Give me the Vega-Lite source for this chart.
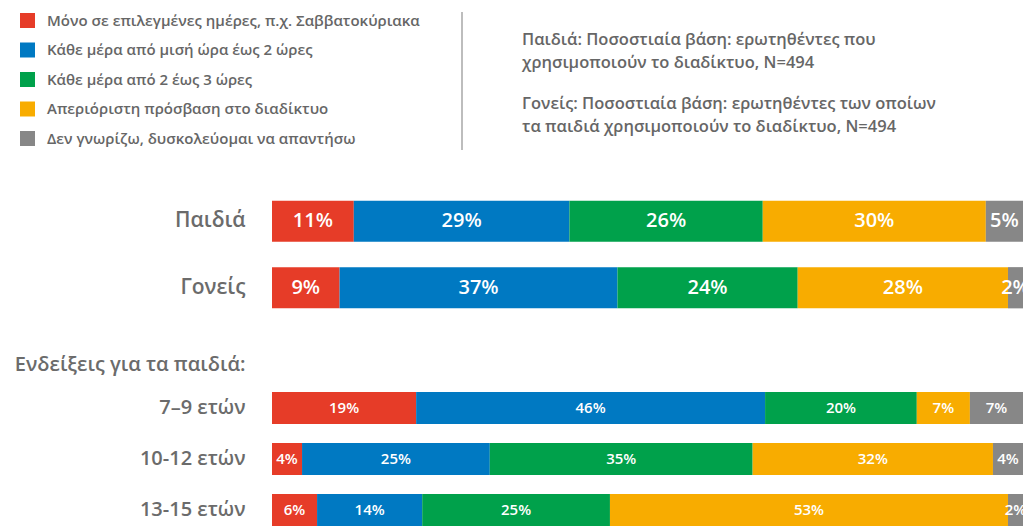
{
  "$schema": "https://vega.github.io/schema/vega-lite/v6.json",
  "width": 751,
  "height": 338,
  "autosize": {"type": "none"},
  "padding": {"left": 272, "top": 188, "right": 8, "bottom": 0},
  "background": "white",
  "config": {
    "view": {"stroke": null},
    "font": "Open Sans",
    "axisY": {"ticks": false, "domain": false, "grid": false, "labelFont": "Open Sans", "labelFontWeight": 600, "labelColor": "#6b6b6b", "labelPadding": 27, "labelLimit": 500, "title": null}
  },
  "datasets": {
    "bars": [
      {"row": "Παιδιά", "group": "top", "k": 1, "cat": "Μόνο σε επιλεγμένες ημέρες, π.χ. Σαββατοκύριακα", "v": 0.11},
      {"row": "Παιδιά", "group": "top", "k": 2, "cat": "Κάθε μέρα από μισή ώρα έως 2 ώρες", "v": 0.29},
      {"row": "Παιδιά", "group": "top", "k": 3, "cat": "Κάθε μέρα από 2 έως 3 ώρες", "v": 0.26},
      {"row": "Παιδιά", "group": "top", "k": 4, "cat": "Απεριόριστη πρόσβαση στο διαδίκτυο", "v": 0.30},
      {"row": "Παιδιά", "group": "top", "k": 5, "cat": "Δεν γνωρίζω, δυσκολεύομαι να απαντήσω", "v": 0.05},
      {"row": "Γονείς", "group": "top", "k": 1, "cat": "Μόνο σε επιλεγμένες ημέρες, π.χ. Σαββατοκύριακα", "v": 0.09},
      {"row": "Γονείς", "group": "top", "k": 2, "cat": "Κάθε μέρα από μισή ώρα έως 2 ώρες", "v": 0.37},
      {"row": "Γονείς", "group": "top", "k": 3, "cat": "Κάθε μέρα από 2 έως 3 ώρες", "v": 0.24},
      {"row": "Γονείς", "group": "top", "k": 4, "cat": "Απεριόριστη πρόσβαση στο διαδίκτυο", "v": 0.28},
      {"row": "Γονείς", "group": "top", "k": 5, "cat": "Δεν γνωρίζω, δυσκολεύομαι να απαντήσω", "v": 0.02},
      {"row": "7–9 ετών", "group": "age", "k": 1, "cat": "Μόνο σε επιλεγμένες ημέρες, π.χ. Σαββατοκύριακα", "v": 0.19},
      {"row": "7–9 ετών", "group": "age", "k": 2, "cat": "Κάθε μέρα από μισή ώρα έως 2 ώρες", "v": 0.46},
      {"row": "7–9 ετών", "group": "age", "k": 3, "cat": "Κάθε μέρα από 2 έως 3 ώρες", "v": 0.20},
      {"row": "7–9 ετών", "group": "age", "k": 4, "cat": "Απεριόριστη πρόσβαση στο διαδίκτυο", "v": 0.07},
      {"row": "7–9 ετών", "group": "age", "k": 5, "cat": "Δεν γνωρίζω, δυσκολεύομαι να απαντήσω", "v": 0.07},
      {"row": "10-12 ετών", "group": "age", "k": 1, "cat": "Μόνο σε επιλεγμένες ημέρες, π.χ. Σαββατοκύριακα", "v": 0.04},
      {"row": "10-12 ετών", "group": "age", "k": 2, "cat": "Κάθε μέρα από μισή ώρα έως 2 ώρες", "v": 0.25},
      {"row": "10-12 ετών", "group": "age", "k": 3, "cat": "Κάθε μέρα από 2 έως 3 ώρες", "v": 0.35},
      {"row": "10-12 ετών", "group": "age", "k": 4, "cat": "Απεριόριστη πρόσβαση στο διαδίκτυο", "v": 0.32},
      {"row": "10-12 ετών", "group": "age", "k": 5, "cat": "Δεν γνωρίζω, δυσκολεύομαι να απαντήσω", "v": 0.04},
      {"row": "13-15 ετών", "group": "age", "k": 1, "cat": "Μόνο σε επιλεγμένες ημέρες, π.χ. Σαββατοκύριακα", "v": 0.06},
      {"row": "13-15 ετών", "group": "age", "k": 2, "cat": "Κάθε μέρα από μισή ώρα έως 2 ώρες", "v": 0.14},
      {"row": "13-15 ετών", "group": "age", "k": 3, "cat": "Κάθε μέρα από 2 έως 3 ώρες", "v": 0.25},
      {"row": "13-15 ετών", "group": "age", "k": 4, "cat": "Απεριόριστη πρόσβαση στο διαδίκτυο", "v": 0.53},
      {"row": "13-15 ετών", "group": "age", "k": 5, "cat": "Δεν γνωρίζω, δυσκολεύομαι να απαντήσω", "v": 0.02}
    ],
    "notes": [
      {"para": 1, "text": "Παιδιά: Ποσοστιαία βάση: ερωτηθέντες που\nχρησιμοποιούν το διαδίκτυο, N=494"},
      {"para": 2, "text": "Γονείς: Ποσοστιαία βάση: ερωτηθέντες των οποίων\nτα παιδιά χρησιμοποιούν το διαδίκτυο, N=494"}
    ]
  },
  "resolve": {"scale": {"y": "independent"}, "axis": {"y": "independent"}},
  "layer": [
    {
      "data": {"name": "bars"},
      "transform": [{"filter": "datum.group === 'top'"}],
      "encoding": {
        "y": {"field": "row", "type": "nominal", "sort": null,
          "scale": {"domain": ["Παιδιά", "Γονείς"], "range": [0, 133], "paddingInner": 0.38, "paddingOuter": 0.19},
          "axis": {"orient": "left", "labelFontSize": 21}},
        "x": {"field": "v", "type": "quantitative", "stack": "normalize", "axis": null},
        "order": {"field": "k", "type": "quantitative"}
      },
      "layer": [
        {
          "mark": {"type": "bar"},
          "encoding": {
            "color": {"field": "cat", "type": "nominal",
              "scale": {"domain": ["Μόνο σε επιλεγμένες ημέρες, π.χ. Σαββατοκύριακα", "Κάθε μέρα από μισή ώρα έως 2 ώρες", "Κάθε μέρα από 2 έως 3 ώρες", "Απεριόριστη πρόσβαση στο διαδίκτυο", "Δεν γνωρίζω, δυσκολεύομαι να απαντήσω"],
                "range": ["#E63C28", "#0079C2", "#00A14B", "#F8AC00", "#878787"]},
              "legend": {"orient": "none", "legendX": -252, "legendY": -175, "title": null, "padding": 0, "symbolType": "square", "symbolSize": 225, "symbolStrokeWidth": 0, "labelFontSize": 15, "labelFont": "Open Sans", "labelFontWeight": 600, "labelColor": "#666666", "labelLimit": 600, "labelOffset": 12, "rowPadding": 13.5}}
          }
        },
        {
          "mark": {"type": "text", "color": "white", "fontSize": 20, "fontWeight": 600, "baseline": "middle"},
          "encoding": {
            "detail": {"field": "cat"},
            "x": {"field": "v", "type": "quantitative", "stack": "normalize", "bandPosition": 0.5, "axis": null},
            "text": {"field": "v", "type": "quantitative", "format": ".0%"}
          }
        }
      ]
    },
    {
      "data": {"name": "bars"},
      "transform": [{"filter": "datum.group === 'age'"}],
      "encoding": {
        "y": {"field": "row", "type": "nominal", "sort": null,
          "scale": {"domain": ["Ενδείξεις για τα παιδιά:", "7–9 ετών", "10-12 ετών", "13-15 ετών"], "range": [143.5, 347.5], "paddingInner": 0.3725, "paddingOuter": 0.186},
          "axis": {"orient": "left", "labelFontSize": 20,
            "labelOffset": {"condition": {"test": "datum.value === 'Ενδείξεις για τα παιδιά:'", "value": 8}, "value": 0}}},
        "x": {"field": "v", "type": "quantitative", "stack": "normalize", "axis": null},
        "order": {"field": "k", "type": "quantitative"}
      },
      "layer": [
        {
          "mark": {"type": "bar"},
          "encoding": {
            "color": {"field": "cat", "type": "nominal",
              "scale": {"domain": ["Μόνο σε επιλεγμένες ημέρες, π.χ. Σαββατοκύριακα", "Κάθε μέρα από μισή ώρα έως 2 ώρες", "Κάθε μέρα από 2 έως 3 ώρες", "Απεριόριστη πρόσβαση στο διαδίκτυο", "Δεν γνωρίζω, δυσκολεύομαι να απαντήσω"],
                "range": ["#E63C28", "#0079C2", "#00A14B", "#F8AC00", "#878787"]},
              "legend": {"orient": "none", "legendX": -252, "legendY": -175, "title": null, "padding": 0, "symbolType": "square", "symbolSize": 225, "symbolStrokeWidth": 0, "labelFontSize": 15, "labelFont": "Open Sans", "labelFontWeight": 600, "labelColor": "#666666", "labelLimit": 600, "labelOffset": 12, "rowPadding": 13.5}}
          }
        },
        {
          "mark": {"type": "text", "color": "white", "fontSize": 15, "fontWeight": 600, "baseline": "middle"},
          "encoding": {
            "detail": {"field": "cat"},
            "x": {"field": "v", "type": "quantitative", "stack": "normalize", "bandPosition": 0.5, "axis": null},
            "text": {"field": "v", "type": "quantitative", "format": ".0%"}
          }
        }
      ]
    },
    {
      "data": {"values": [{"sep": 1}]},
      "mark": {"type": "rule", "color": "#bdbdbd", "strokeWidth": 2},
      "encoding": {
        "x": {"datum": 0.253, "type": "quantitative", "axis": null},
        "y": {"datum": 0, "type": "quantitative", "scale": {"domain": [0, 1], "range": [-176, -38], "zero": false, "nice": false}, "axis": null},
        "y2": {"datum": 1}
      }
    },
    {
      "data": {"name": "notes"},
      "mark": {"type": "text", "align": "left", "baseline": "middle", "fontSize": 16.5, "fontWeight": 600, "color": "#666666", "font": "Open Sans", "lineBreak": "\n", "lineHeight": 22.5},
      "encoding": {
        "x": {"datum": 0.333, "type": "quantitative", "axis": null},
        "y": {"field": "para", "type": "ordinal", "scale": {"type": "point", "domain": [1, 2], "range": [-148, -84], "padding": 0}, "axis": null},
        "text": {"field": "text"}
      }
    }
  ]
}
